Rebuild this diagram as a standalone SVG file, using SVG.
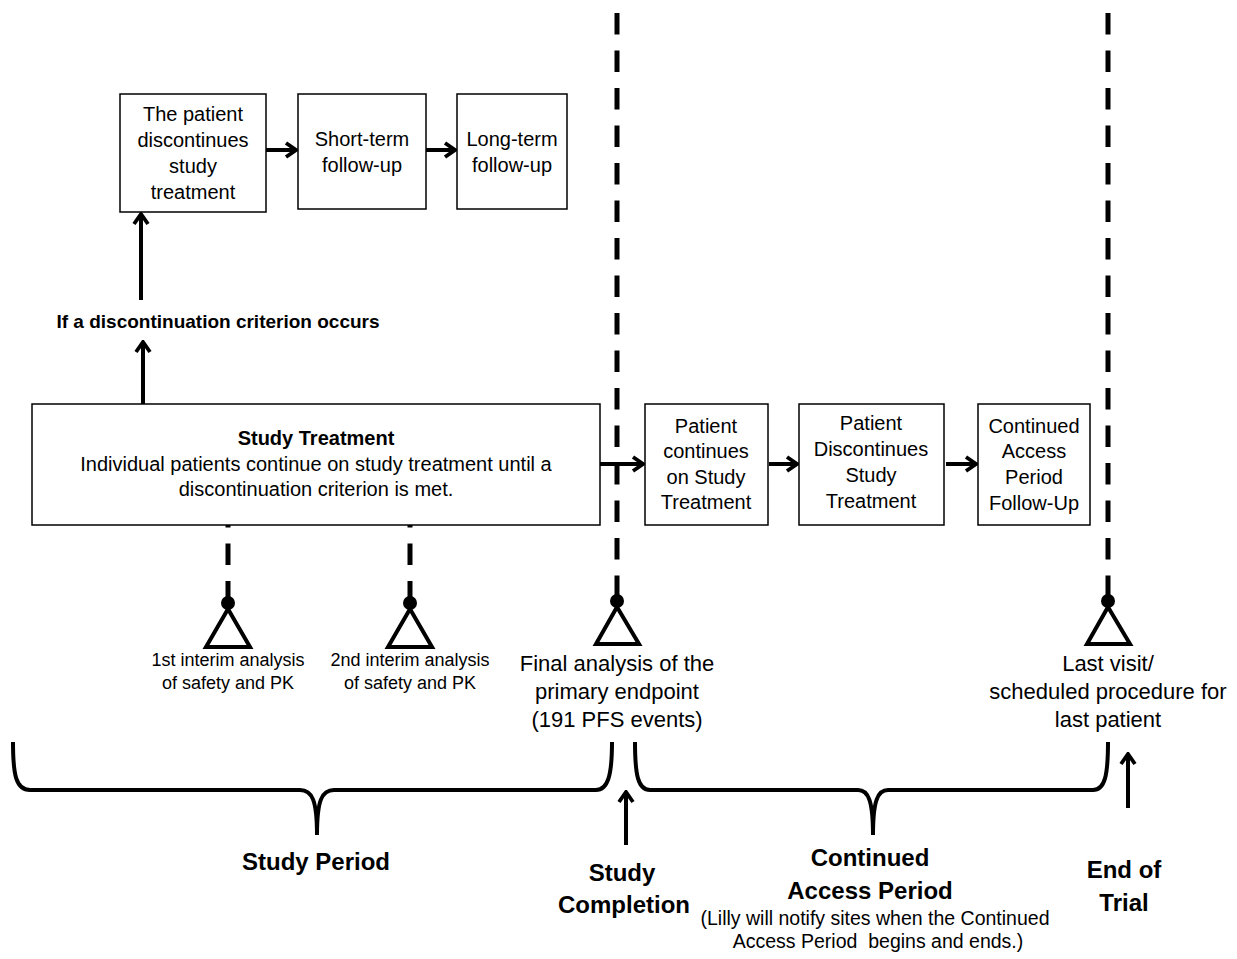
<svg xmlns="http://www.w3.org/2000/svg" width="1237" height="959" viewBox="0 0 1237 959">
<style>
.box{fill:#fff;stroke:#000;stroke-width:1.5}
text{font-family:"Liberation Sans",Arial,sans-serif;fill:#000;text-anchor:middle}
.t{font-size:20px}
.b{font-weight:bold}
.sm{font-size:18px}
.md{font-size:22px}
.big{font-size:24px;font-weight:bold}
.note{font-size:19.5px;white-space:pre}
.arr{stroke:#000;stroke-width:4;fill:none}
.dash{stroke:#000;stroke-width:5;fill:none;stroke-dasharray:21.5 16}
.brace{stroke:#000;stroke-width:4;fill:none}
.tri{fill:#fff;stroke:#000;stroke-width:4;stroke-linejoin:miter}
</style>
<defs>
<marker id="ah" viewBox="0 0 14 18" refX="12" refY="9" markerWidth="14" markerHeight="18" markerUnits="userSpaceOnUse" orient="auto">
<path d="M2,2 L12,9 L2,16" fill="none" stroke="#000" stroke-width="3.8"/>
</marker>
</defs>

<g id="timeline">
<line class="dash" x1="617" y1="13" x2="617" y2="597"/>
<line class="dash" x1="1108" y1="13" x2="1108" y2="597"/>
<line class="dash" x1="228" y1="506" x2="228" y2="600"/>
<line class="dash" x1="410" y1="506" x2="410" y2="600"/>
</g>

<g id="connectors">
<line class="arr" x1="143" y1="404" x2="143" y2="342" marker-end="url(#ah)"/>
<line class="arr" x1="141" y1="300" x2="141" y2="214" marker-end="url(#ah)"/>
<line class="arr" x1="266" y1="150" x2="296" y2="150" marker-end="url(#ah)"/>
<line class="arr" x1="426" y1="150" x2="455" y2="150" marker-end="url(#ah)"/>
<line class="arr" x1="600" y1="464" x2="643" y2="464" marker-end="url(#ah)"/>
<line class="arr" x1="769" y1="464" x2="797" y2="464" marker-end="url(#ah)"/>
<line class="arr" x1="946" y1="464" x2="976" y2="464" marker-end="url(#ah)"/>
<line class="arr" x1="626" y1="845" x2="626" y2="792" marker-end="url(#ah)"/>
<line class="arr" x1="1128" y1="808" x2="1128" y2="754" marker-end="url(#ah)"/>
</g>

<g id="study-treatment">
<rect class="box" x="32" y="404" width="568" height="121"/>
<text class="t b" x="316" y="445">Study Treatment</text>
<text class="t" x="316" y="471">Individual patients continue on study treatment until a</text>
<text class="t" x="316" y="496">discontinuation criterion is met.</text>
</g>

<g id="criterion-label">
<text class="b" x="218" y="328" style="font-size:19px">If a discontinuation criterion occurs</text>
</g>

<g id="patient-discontinues">
<rect class="box" x="120" y="94" width="146" height="118"/>
<text class="t" x="193" y="121">The patient</text>
<text class="t" x="193" y="147">discontinues</text>
<text class="t" x="193" y="173">study</text>
<text class="t" x="193" y="199">treatment</text>
</g>

<g id="short-term">
<rect class="box" x="298" y="94" width="128" height="115"/>
<text class="t" x="362" y="146">Short-term</text>
<text class="t" x="362" y="172">follow-up</text>
</g>

<g id="long-term">
<rect class="box" x="457" y="94" width="110" height="115"/>
<text class="t" x="512" y="146">Long-term</text>
<text class="t" x="512" y="172">follow-up</text>
</g>

<g id="patient-continues">
<rect class="box" x="645" y="404" width="123" height="121"/>
<text class="t" x="706" y="433">Patient</text>
<text class="t" x="706" y="458">continues</text>
<text class="t" x="706" y="484">on Study</text>
<text class="t" x="706" y="509">Treatment</text>
</g>

<g id="patient-discontinues-2">
<rect class="box" x="799" y="404" width="145" height="121"/>
<text class="t" x="871" y="430">Patient</text>
<text class="t" x="871" y="456">Discontinues</text>
<text class="t" x="871" y="482">Study</text>
<text class="t" x="871" y="508">Treatment</text>
</g>

<g id="cap-follow-up">
<rect class="box" x="978" y="404" width="112" height="121"/>
<text class="t" x="1034" y="433">Continued</text>
<text class="t" x="1034" y="458">Access</text>
<text class="t" x="1034" y="484">Period</text>
<text class="t" x="1034" y="510">Follow-Up</text>
</g>

<g id="ia1">
<circle cx="228" cy="603" r="7"/>
<polygon class="tri" points="228,609 206,647 250,647"/>
<text class="sm" x="228" y="666">1st interim analysis</text>
<text class="sm" x="228" y="689">of safety and PK</text>
</g>

<g id="ia2">
<circle cx="410" cy="603" r="7"/>
<polygon class="tri" points="410,609 388,647 432,647"/>
<text class="sm" x="410" y="666">2nd interim analysis</text>
<text class="sm" x="410" y="689">of safety and PK</text>
</g>

<g id="final-analysis">
<circle cx="617" cy="601" r="7"/>
<polygon class="tri" points="617,607 596,644 639,644"/>
<text class="md" x="617" y="671">Final analysis of the</text>
<text class="md" x="617" y="699">primary endpoint</text>
<text class="md" x="617" y="727">(191 PFS events)</text>
</g>

<g id="last-visit">
<circle cx="1108" cy="601" r="7"/>
<polygon class="tri" points="1108,607 1087,644 1130,644"/>
<text class="md" x="1108" y="671">Last visit/</text>
<text class="md" x="1108" y="699">scheduled procedure for</text>
<text class="md" x="1108" y="727">last patient</text>
</g>

<g id="braces">
<path class="brace" d="M13,742 C13,775 16,790 30,790 L300,790 C312,790 317,800 317,835 C317,800 322,790 334,790 L596,790 C608,790 612,775 612,742"/>
<path class="brace" d="M635,742 C635,775 638,790 650,790 L858,790 C868,790 873,800 873,835 C873,800 878,790 888,790 L1093,790 C1105,790 1108,775 1108,742"/>
</g>

<g id="period-labels">
<text class="big" x="316" y="870">Study Period</text>
<text class="big" x="622" y="881">Study</text>
<text class="big" x="624" y="913">Completion</text>
<text class="big" x="870" y="866">Continued</text>
<text class="big" x="870" y="899">Access Period</text>
<text class="note" x="875" y="925">(Lilly will notify sites when the Continued</text>
<text class="note" x="878" y="948">Access Period  begins and ends.)</text>
<text class="big" x="1124" y="878">End of</text>
<text class="big" x="1124" y="911">Trial</text>
</g>
</svg>
